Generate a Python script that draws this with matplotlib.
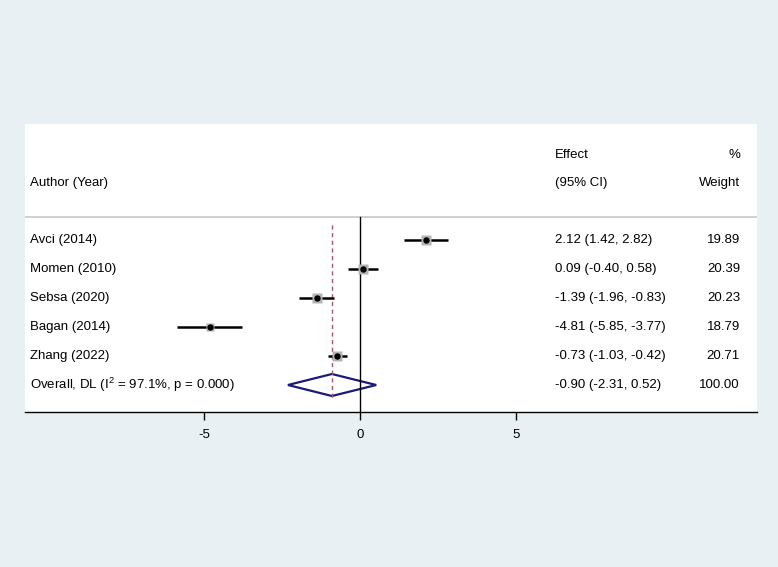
import matplotlib
matplotlib.use("Agg")
import matplotlib.pyplot as plt
from matplotlib.patches import Polygon

plt.rcParams['font.family'] = ['Liberation Sans', 'DejaVu Sans']
plt.rcParams['mathtext.fontset'] = 'custom'
plt.rcParams['mathtext.rm'] = 'Liberation Sans'
plt.rcParams['mathtext.it'] = 'Liberation Sans'

studies = ["Avci (2014)", "Momen (2010)", "Sebsa (2020)", "Bagan (2014)", "Zhang (2022)"]
effects = [2.12, 0.09, -1.39, -4.81, -0.73]
lower = [1.42, -0.40, -1.96, -5.85, -1.03]
upper = [2.82, 0.58, -0.83, -3.77, -0.42]
weights = [19.89, 20.39, 20.23, 18.79, 20.71]
overall = dict(label="Overall, DL (I$^{2}$ = 97.1%, p = 0.000)", est=-0.90, lo=-2.31, hi=0.52, w=100.00)
xticks = [-5, 0, 5]

W, H = 778, 567
fig = plt.figure(figsize=(W / 100, H / 100), dpi=100)
fig.patch.set_facecolor('#e8f0f3')

left, right, top, bottom = 25, 757, 124, 412
ax = fig.add_axes([left / W, 1 - bottom / H, (right - left) / W, (bottom - top) / H])
ax.set_facecolor('white')

x0px, scale = 360.0, 31.2
ax.set_xlim((left - x0px) / scale, (right - x0px) / scale)
row0, step = 240.0, 29.0
ax.set_ylim((bottom - row0) / step, (top - row0) / step)

def py(p):
    return (p - row0) / step

def px(p):
    return (p - x0px) / scale

fs = 9.5
# header
ax.text(px(30), py(183), "Author (Year)", fontsize=fs, va='center', ha='left')
ax.text(px(555), py(155), "Effect", fontsize=fs, va='center', ha='left')
ax.text(px(555), py(183), "(95% CI)", fontsize=fs, va='center', ha='left')
ax.text(px(740), py(155), "%", fontsize=fs, va='center', ha='right')
ax.text(px(740), py(183), "Weight", fontsize=fs, va='center', ha='right')

# separator
ax.axhline(py(217), color='#c8c8c8', lw=1.2)

# zero line
ax.plot([0, 0], [py(217), py(bottom)], color='black', lw=1.0)
# overall dashed line
ax.plot([overall['est']] * 2, [py(225), py(398)], color='#a05a64', lw=1.0, ls=(0, (3, 2.5)))

for i, (s, e, lo, hi, w) in enumerate(zip(studies, effects, lower, upper, weights)):
    ax.plot([lo, hi], [i, i], color='black', lw=1.8, solid_capstyle='butt')
    ax.plot(e, i, marker='s', ms=6.5 * (w / 20) ** 0.5, color='#b4b4b4', mec='none')
    ax.plot(e, i, marker='o', ms=3.6, color='black')
    ax.text(px(30), i, s, fontsize=fs, va='center', ha='left')
    ax.text(px(555), i, f"{e:.2f} ({lo:.2f}, {hi:.2f})", fontsize=fs, va='center', ha='left')
    ax.text(px(740), i, f"{w:.2f}", fontsize=fs, va='center', ha='right')

k = len(studies)
dh = 11.0 / step
diamond = Polygon([[overall['lo'], k], [overall['est'], k - dh], [overall['hi'], k], [overall['est'], k + dh]],
                  closed=True, fill=False, edgecolor='#1a1a78', lw=1.6)
ax.add_patch(diamond)
ax.text(px(30), k, overall['label'], fontsize=fs, va='center', ha='left')
ax.text(px(555), k, f"{overall['est']:.2f} ({overall['lo']:.2f}, {overall['hi']:.2f})", fontsize=fs, va='center', ha='left')
ax.text(px(740), k, f"{overall['w']:.2f}", fontsize=fs, va='center', ha='right')

for sp in ['top', 'left', 'right']:
    ax.spines[sp].set_visible(False)
ax.spines['bottom'].set_color('black')
ax.spines['bottom'].set_linewidth(1.0)
ax.set_yticks([])
ax.set_xticks(xticks)
ax.set_xticklabels([str(t) for t in xticks], fontsize=fs)
ax.tick_params(axis='x', direction='out', length=6, width=1, pad=6)

fig.savefig("out.png", dpi=100, facecolor=fig.get_facecolor())
